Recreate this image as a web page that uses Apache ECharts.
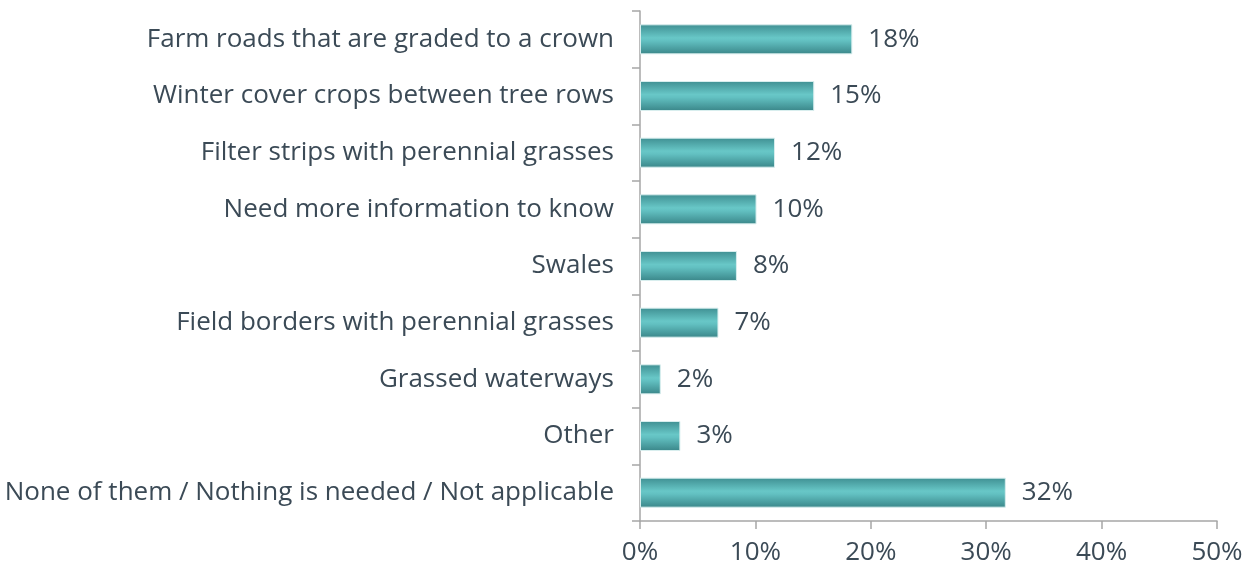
<!DOCTYPE html>
<html>
<head>
<meta charset="utf-8">
<script src="https://cdn.jsdelivr.net/npm/echarts@6/dist/echarts.min.js"></script>
<style>
    html, body { margin: 0; padding: 0; background: #fff; }
    #chart { width: 1256px; height: 571px; }
</style>
</head>
<body>
<div id="chart"></div>
<script>
// categories, top to bottom as in the picture
var categories = [
    'Farm roads that are graded to a crown',
    'Winter cover crops between tree rows',
    'Filter strips with perennial grasses',
    'Need more information to know',
    'Swales',
    'Field borders with perennial grasses',
    'Grassed waterways',
    'Other',
    'None of them / Nothing is needed / Not applicable'
];
// bar lengths (percent)
var values = [18.4, 15.1, 11.7, 10.1, 8.4, 6.8, 1.8, 3.5, 31.7];
// printed labels
var valueLabels = ['18%', '15%', '12%', '10%', '8%', '7%', '2%', '3%', '32%'];
var xTicks = [0, 10, 20, 30, 40, 50];

var textColor = '#3b4a56';
var axisColor = '#a6a6a6';
var fontName = 'Open Sans';

var myChart = echarts.init(document.getElementById('chart'));
var option = {
    animation: false,
    grid: {
        left: 640,
        right: 39,
        top: 11,
        bottom: 50
    },
    xAxis: {
        type: 'value',
        min: xTicks[0],
        max: xTicks[xTicks.length - 1],
        interval: 10,
        axisLine: {show: true, lineStyle: {color: axisColor, width: 1.5}},
        axisTick: {show: true, length: 8, lineStyle: {color: axisColor, width: 1.5}},
        splitLine: {show: false},
        axisLabel: {
            color: textColor,
            fontFamily: fontName,
            fontSize: 26,
            margin: 19,
            formatter: '{value}%'
        }
    },
    yAxis: {
        type: 'category',
        inverse: true,
        data: categories,
        axisLine: {show: true, lineStyle: {color: axisColor, width: 1.5}},
        axisTick: {show: true, length: 8, lineStyle: {color: axisColor, width: 1.5}},
        axisLabel: {
            color: textColor,
            fontFamily: fontName,
            fontSize: 26,
            margin: 26
        }
    },
    series: [
        {
            type: 'bar',
            data: values,
            barWidth: 30,
            itemStyle: {
                color: new echarts.graphic.LinearGradient(0, 0, 0, 1, [
                    {offset: 0, color: '#3f8f92'},
                    {offset: 0.45, color: '#68c7c7'},
                    {offset: 0.55, color: '#62c0c1'},
                    {offset: 1, color: '#3a8689'}
                ]),
                borderColor: '#d8eeee',
                borderWidth: 1
            },
            label: {
                show: true,
                position: 'right',
                distance: 16,
                color: textColor,
                fontFamily: fontName,
                fontSize: 26,
                formatter: function (p) {
                    return valueLabels[p.dataIndex];
                }
            }
        }
    ]
};
myChart.setOption(option, true);
</script>
</body>
</html>
